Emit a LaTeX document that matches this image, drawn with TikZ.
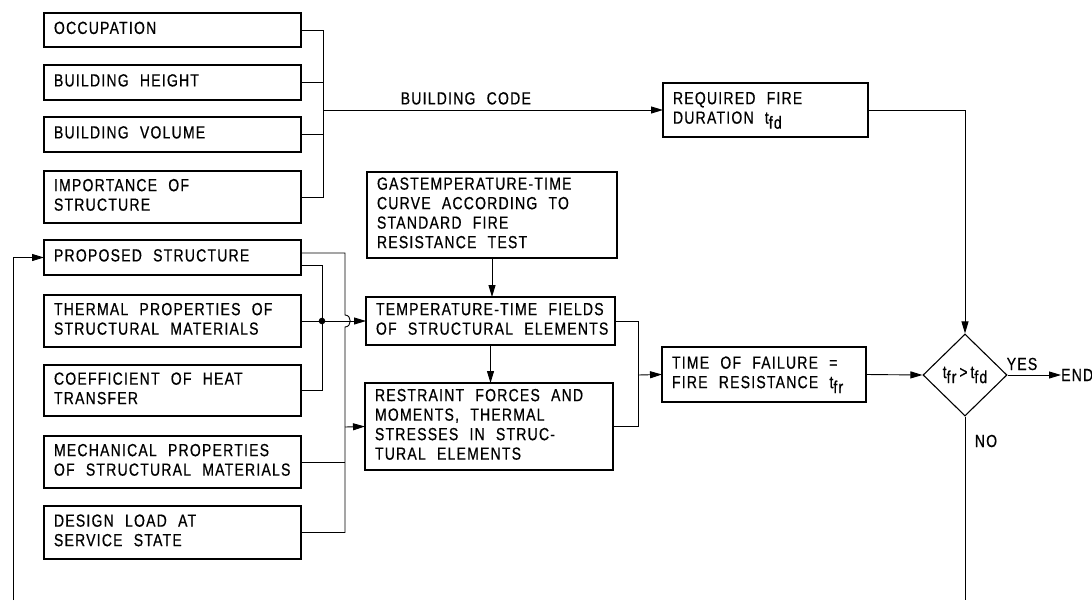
\documentclass[tikz,border=0pt]{standalone}
\usepackage{fontspec}
\setmainfont{Liberation Sans}[FakeStretch=0.8,LetterSpace=7,WordSpace=2.2,FakeBold=0.6]
\usetikzlibrary{arrows.meta,shapes.geometric}
\newcommand\lett{\fontsize{17.5}{19.5}\selectfont}
\newcommand\tw[2]{\makebox[#1pt][l]{\begin{tabular}{@{}l@{}}#2\end{tabular}}}
\newcommand\sub[1]{\raisebox{-5pt}{#1}}
\begin{document}
\begin{tikzpicture}[x=1pt,y=-1pt,
  box/.style={draw, line width=1.1pt, rectangle, inner xsep=10pt, inner ysep=0pt,
    outer sep=0pt, anchor=north west, font=\lett},
  conn/.style={line width=0.9pt},
  arr/.style={conn, -{Triangle[length=12pt,width=7pt]}},
  lbl/.style={font=\lett, inner sep=0pt}]
\useasboundingbox (0,0) rectangle (1092,600);
% left column
\node[box, minimum width=257pt, minimum height=34pt] (occ) at (44,13) {\tw{237}{OCCUPATION}};
\node[box, minimum width=257pt, minimum height=35pt] (bh) at (44,65) {\tw{237}{BUILDING HEIGHT}};
\node[box, minimum width=257pt, minimum height=35pt] (bv) at (44,117) {\tw{237}{BUILDING VOLUME}};
\node[box, minimum width=257pt, minimum height=52pt] (imp) at (44,171) {\tw{237}{IMPORTANCE OF\\STRUCTURE}};
\node[box, minimum width=257pt, minimum height=35pt] (prop) at (44,240) {\tw{237}{PROPOSED STRUCTURE}};
\node[box, minimum width=257pt, minimum height=52pt] (therm) at (44,295) {\tw{237}{THERMAL PROPERTIES OF\\STRUCTURAL MATERIALS}};
\node[box, minimum width=257pt, minimum height=51pt] (coef) at (44,365) {\tw{237}{COEFFICIENT OF HEAT\\TRANSFER}};
\node[box, minimum width=257pt, minimum height=52pt] (mech) at (44,436) {\tw{237}{MECHANICAL PROPERTIES\\OF STRUCTURAL MATERIALS}};
\node[box, minimum width=257pt, minimum height=53pt] (dl) at (44,506) {\tw{237}{DESIGN LOAD AT\\SERVICE STATE}};
% middle column
\node[box, minimum width=250pt, minimum height=86pt] (gas) at (367,172) {\tw{230}{GASTEMPERATURE-TIME\\CURVE ACCORDING TO\\STANDARD FIRE\\RESISTANCE TEST}};
\node[box, minimum width=249pt, minimum height=48pt] (temp) at (366,297) {\tw{229}{TEMPERATURE-TIME FIELDS\\OF STRUCTURAL ELEMENTS}};
\node[box, minimum width=248pt, minimum height=87pt] (rest) at (365,383) {\tw{228}{RESTRAINT FORCES AND\\MOMENTS, THERMAL\\STRESSES IN STRUC-\\TURAL ELEMENTS}};
% right column
\node[box, minimum width=205pt, minimum height=54pt] (req) at (663,83) {\tw{185}{REQUIRED FIRE\\DURATION t\sub{fd}}};
\node[box, minimum width=204pt, minimum height=55pt] (time) at (662,347) {\tw{184}{TIME OF FAILURE =\\FIRE RESISTANCE t\sub{fr}}};
\node[draw, line width=1.1pt, diamond, aspect=1, minimum width=84pt, minimum height=82pt, inner sep=0pt, font=\lett] (dia) at (965,375) {\raisebox{2pt}{t\sub{fr}\,>\,t\sub{fd}}};
\node[lbl, anchor=west] (end) at (1061,375) {END};
\node[lbl] (yes) at (1022,364) {YES};
\node[lbl] (no) at (986,441) {NO};
% coordinates
\coordinate (b1) at (323,110);
\coordinate (j) at (322,321);
\coordinate (v2) at (345,0);
\coordinate (h253) at (0,253);
\coordinate (h265) at (0,265);
\coordinate (b2) at (345,427);
\coordinate (b3) at (638,375);
\coordinate (fbot) at (13,600);
\coordinate (nobot) at (965,600);
% top bus
\draw[conn] (occ.east) -| (b1);
\draw[conn] (imp.east) -| (b1);
\draw[conn] (bh.east) -- (bh.east -| b1);
\draw[conn] (bv.east) -- (bv.east -| b1);
\draw[arr] (b1) -- (req.west) node[lbl, pos=0.42, above=5pt] (code) {BUILDING CODE};
\draw[arr] (req.east) -| (dia.north);
% thermal junction
\draw[conn] (prop.east |- h265) -| (j);
\draw[conn] (coef.east) -| (j);
\draw[arr] (therm.east) -- (temp.west);
\fill (j) circle[radius=3.3pt];
% mechanical bus with hop
\draw[conn] (prop.east |- h253) -- (345,253) -- (345,315)
  .. controls (352,315) and (352,327) .. (345,327) -- (dl.east -| v2) -- (dl.east);
\draw[conn] (mech.east) -- (mech.east -| v2);
\draw[arr] (b2) -- (rest.west);
% vertical flow
\draw[arr] (gas.south) -- (gas.south |- temp.north);
\draw[arr] (temp.south) -- (temp.south |- rest.north);
% output bus
\draw[conn] (temp.east) -| (b3);
\draw[conn] (rest.east) -| (b3);
\draw[arr] (b3) -- (time.west);
\draw[arr] (time.east) -- (dia.west);
\draw[arr] (dia.east) -- (end.west);
\draw[conn] (dia.south) -- (nobot);
% feedback
\draw[arr] (fbot) |- (prop.west);
\end{tikzpicture}
\end{document}
